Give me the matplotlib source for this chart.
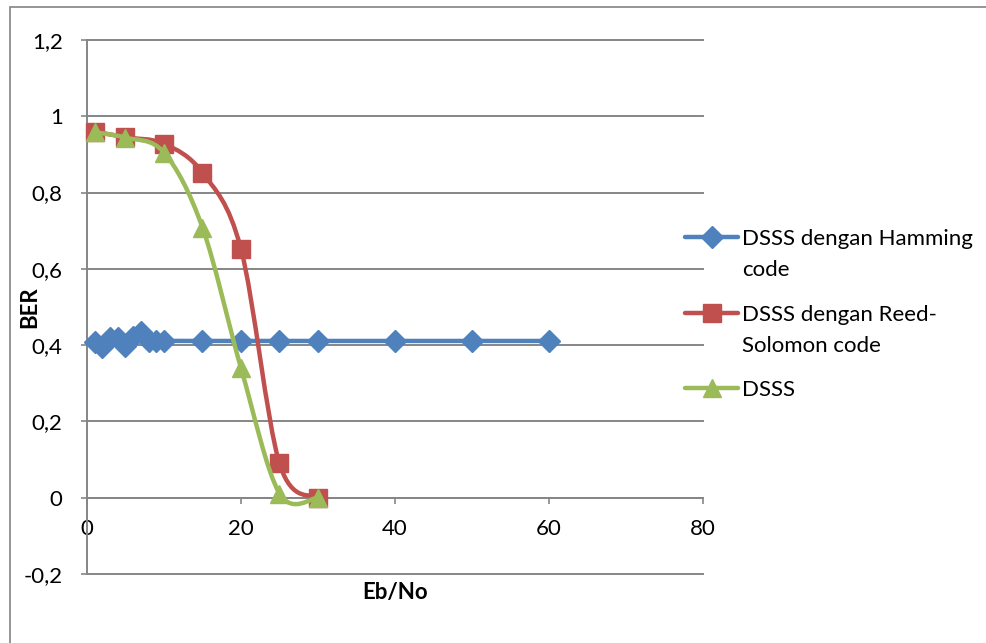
import numpy as np
import matplotlib
matplotlib.use("Agg")
import matplotlib.pyplot as plt
from matplotlib.path import Path
from matplotlib.patches import PathPatch, Rectangle
from matplotlib.lines import Line2D

# --- data ---
eb_hamming = [1, 2, 3, 4, 5, 6, 7, 8, 9, 10, 15, 20, 25, 30, 40, 50, 60]
ber_hamming = [0.407, 0.396, 0.418, 0.420, 0.398, 0.422, 0.435, 0.410, 0.410,
               0.411, 0.411, 0.411, 0.411, 0.411, 0.411, 0.411, 0.411]
eb_rs = [1, 5, 10, 15, 20, 25, 30]
ber_rs = [0.960, 0.945, 0.928, 0.852, 0.652, 0.090, 0.0]
eb_dsss = [1, 5, 10, 15, 20, 25, 30]
ber_dsss = [0.958, 0.944, 0.905, 0.708, 0.340, 0.011, 0.0]

labels = ["DSSS dengan Hamming\ncode", "DSSS dengan Reed-\nSolomon code", "DSSS"]
colors = ["#4F81BD", "#C0504D", "#9BBB59"]
markers = ["D", "s", "^"]
msizes = [11.5, 12.5, 13.5]

yticks = [-0.2, 0, 0.2, 0.4, 0.6, 0.8, 1.0, 1.2]
ytick_labels = ["-0,2", "0", "0,2", "0,4", "0,6", "0,8", "1", "1,2"]
xticks = [0, 20, 40, 60, 80]

plt.rcParams['font.family'] = ['Lato', 'DejaVu Sans']
FS = 16
GRID = "#868686"


def smooth_path(xs, ys):
    # Excel-style smoothed line: cubic bezier through the points
    p = np.column_stack([xs, ys]).astype(float)
    n = len(p)
    verts, codes = [p[0]], [Path.MOVETO]
    for i in range(n - 1):
        pm = p[i - 1] if i > 0 else p[i]
        pp = p[i + 2] if i + 2 < n else p[i + 1]
        verts += [p[i] + (p[i + 1] - pm) / 6, p[i + 1] - (pp - p[i]) / 6, p[i + 1]]
        codes += [Path.CURVE4] * 3
    return Path(verts, codes)


W, H = 987, 643
fig = plt.figure(figsize=(W / 100, H / 100), dpi=100)
ax = fig.add_axes([87 / W, 1 - 574 / H, (703 - 87) / W, (574 - 40) / H])

# outer chart border (top + left visible)
fig.add_artist(Rectangle((10 / W, -0.2), 1.2, 1 - 7 / H + 0.2, transform=fig.transFigure,
                         fill=False, edgecolor="#8c8c8c", lw=1.3))

ax.set_xlim(0, 80)
ax.set_ylim(-0.2, 1.2)
ax.spines["bottom"].set_position(("data", 0))
ax.set_yticks(yticks)
ax.set_yticklabels(ytick_labels)
ax.set_xticks(xticks)
ax.set_xticklabels([str(v) for v in xticks])
for v in yticks:
    ax.axhline(v, color=GRID, lw=1.4, zorder=1, clip_on=False)

for s in ["top", "right"]:
    ax.spines[s].set_visible(False)
ax.spines["left"].set_color(GRID)
ax.spines["left"].set_linewidth(1.4)
ax.spines["bottom"].set_color(GRID)
ax.spines["bottom"].set_linewidth(1.4)
ax.tick_params(axis="y", direction="out", length=4.5, width=1.2, color=GRID, pad=13,
               labelsize=FS)
ax.tick_params(axis="x", direction="out", length=4.5, width=1.2, color=GRID, pad=11,
               labelsize=FS)

series = [(eb_hamming, ber_hamming), (eb_rs, ber_rs), (eb_dsss, ber_dsss)]
for k, (xs, ys) in enumerate(series):
    ax.add_patch(PathPatch(smooth_path(xs, ys), fill=False, edgecolor=colors[k],
                           lw=3.2, capstyle="round", joinstyle="round", zorder=3 + k))
    ax.plot(xs, ys, ls="none", marker=markers[k], ms=msizes[k], color=colors[k],
            mec=colors[k], zorder=3 + k, clip_on=False)

ax.set_xlabel("Eb/No", fontsize=FS, fontweight="bold", va="center")
ax.xaxis.set_label_coords(0.5, -(593 - 574) / (574 - 40))
ax.set_ylabel("BER", fontsize=FS, fontweight="bold", va="center")
ax.yaxis.set_label_coords(-(87 - 30) / (703 - 87), 0.5)

# legend (Excel style, handle aligned to first text line)
rows = [237, 313, 388]
for k, lab in enumerate(labels):
    yf = 1 - rows[k] / H
    fig.add_artist(Line2D([685 / W, 738 / W], [yf, yf], transform=fig.transFigure,
                          color=colors[k], lw=3.2, solid_capstyle="round"))
    fig.add_artist(Line2D([711.5 / W], [yf], transform=fig.transFigure, ls="none",
                          marker=markers[k], ms=msizes[k], color=colors[k]))
    for j, line in enumerate(lab.split("\n")):
        fig.text(742 / W, 1 - (rows[k] + 31 * j) / H, line, fontsize=FS,
                 ha="left", va="center_baseline")

fig.savefig("out.png", dpi=100)
